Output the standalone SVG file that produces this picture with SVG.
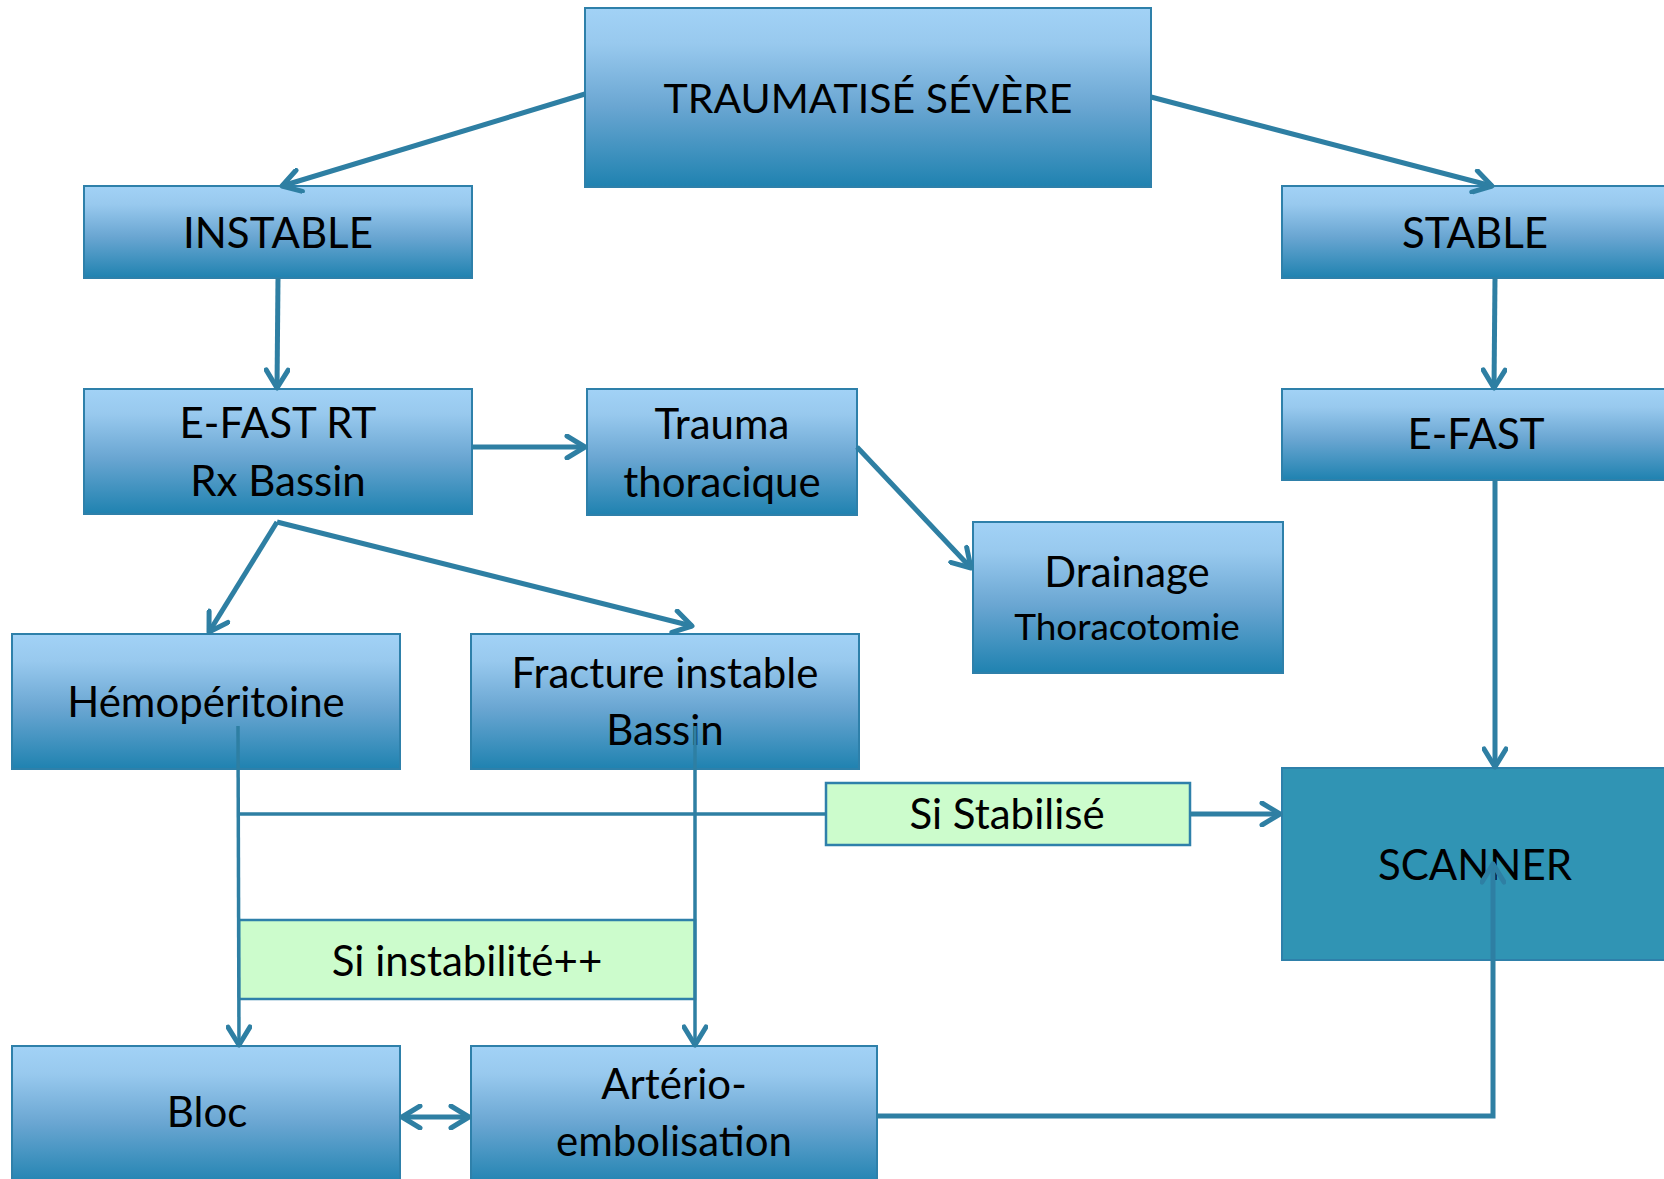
<svg xmlns="http://www.w3.org/2000/svg" width="1664" height="1179" viewBox="0 0 1664 1179">
<defs>
<linearGradient id="g" x1="0" y1="0" x2="0" y2="1">
<stop offset="0" stop-color="#a2d2f6"/>
<stop offset="0.2" stop-color="#98c9ee"/>
<stop offset="0.55" stop-color="#6aa6d2"/>
<stop offset="1" stop-color="#1f82b0"/>
</linearGradient>
<marker id="ar" viewBox="0 0 26 26" refX="22" refY="13" markerWidth="26" markerHeight="26" markerUnits="userSpaceOnUse" orient="auto-start-reverse">
<path d="M4,2 L22,13 L4,24" fill="none" stroke="#2e7fa3" stroke-width="5" stroke-linecap="round" stroke-linejoin="round"/>
</marker>
<style>
.n{fill:url(#g);stroke:#2e80aa;stroke-width:2}
.s{fill:#3094b4;stroke:#2e80aa;stroke-width:2}
.c{fill:#ccfccc;stroke:#2e80aa;stroke-width:2.5}
.t{font-family:Lato,"Open Sans",sans-serif;font-size:42px;fill:#000;text-anchor:middle}
.l{fill:none;stroke:#2e7fa3;stroke-width:5}
.v{fill:none;stroke:#2e7fa3;stroke-width:3.5}
</style>
</defs>
<g id="traumatise"><rect class="n" x="585" y="8" width="566" height="179"/><text class="t" x="868" y="113" style="font-size:41px">TRAUMATISÉ SÉVÈRE</text></g>
<g id="instable"><rect class="n" x="84" y="186" width="388" height="92"/><text class="t" x="278" y="248">INSTABLE</text></g>
<g id="stable"><rect class="n" x="1282" y="186" width="390" height="92"/><text class="t" x="1475" y="248">STABLE</text></g>
<g id="efastrt"><rect class="n" x="84" y="389" width="388" height="125"/><text class="t" x="278" y="438">E-FAST RT</text><text class="t" x="278" y="496">Rx Bassin</text></g>
<g id="trauma"><rect class="n" x="587" y="389" width="270" height="126"/><text class="t" x="722" y="439">Trauma</text><text class="t" x="722" y="497">thoracique</text></g>
<g id="efast"><rect class="n" x="1282" y="389" width="390" height="91"/><text class="t" x="1476" y="449">E-FAST</text></g>
<g id="drainage"><rect class="n" x="973" y="522" width="310" height="151"/><text class="t" x="1127" y="587">Drainage</text><text class="t" x="1127" y="640" style="font-size:37px">Thoracotomie</text></g>
<g id="hemo"><rect class="n" x="12" y="634" width="388" height="135"/><text class="t" x="206" y="717">Hémopéritoine</text></g>
<g id="fracture"><rect class="n" x="471" y="634" width="388" height="135"/><text class="t" x="665" y="688">Fracture instable</text><text class="t" x="665" y="745">Bassin</text></g>
<g id="scanner"><rect class="s" x="1282" y="768" width="390" height="192"/><text class="t" x="1475" y="880">SCANNER</text></g>
<g id="sistabilise"><rect class="c" x="826" y="783" width="364" height="62"/><text class="t" x="1007" y="829">Si Stabilisé</text></g>
<g id="siinstab"><rect class="c" x="239" y="920" width="456" height="79"/><text class="t" x="467" y="976">Si instabilité++</text></g>
<g id="bloc"><rect class="n" x="12" y="1046" width="388" height="140"/><text class="t" x="207" y="1127">Bloc</text></g>
<g id="arterio"><rect class="n" x="471" y="1046" width="406" height="140"/><text class="t" x="674" y="1099">Artério-</text><text class="t" x="674" y="1156">embolisation</text></g>
<g id="connectors">
<line class="l" x1="585" y1="94" x2="282" y2="186" marker-end="url(#ar)"/>
<line class="l" x1="1151" y1="97" x2="1492" y2="186" marker-end="url(#ar)"/>
<line class="l" x1="278" y1="278" x2="277" y2="388" marker-end="url(#ar)"/>
<line class="l" x1="1495" y1="278" x2="1494" y2="388" marker-end="url(#ar)"/>
<line class="l" x1="472" y1="447" x2="585" y2="447" marker-end="url(#ar)"/>
<line class="l" x1="857" y1="447" x2="971" y2="568" marker-end="url(#ar)"/>
<line class="l" x1="277" y1="522" x2="209" y2="632" marker-end="url(#ar)"/>
<line class="l" x1="277" y1="522" x2="692" y2="626" marker-end="url(#ar)"/>
<line class="l" x1="1495" y1="480" x2="1495" y2="767" marker-end="url(#ar)"/>
<polyline class="v" points="238,726 239,1045" marker-end="url(#ar)"/>
<polyline class="v" points="695,726 695,1045" marker-end="url(#ar)"/>
<line class="v" x1="240" y1="814" x2="826" y2="814"/>
<line class="l" x1="1190" y1="814" x2="1280" y2="814" marker-end="url(#ar)"/>
<line class="l" x1="402" y1="1117" x2="469" y2="1117" marker-start="url(#ar)" marker-end="url(#ar)"/>
<polyline class="l" points="877,1116 1493,1116 1493,864" marker-end="url(#ar)"/>
</g>
</svg>
